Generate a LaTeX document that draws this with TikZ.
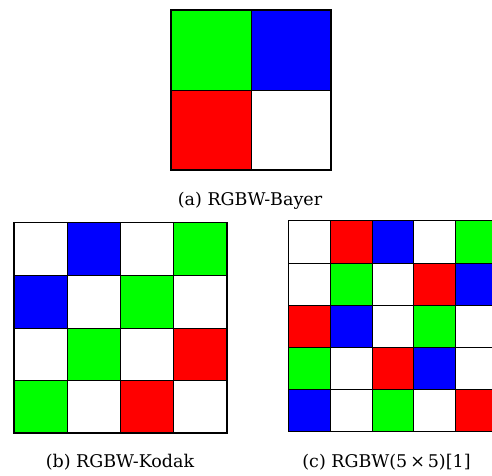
\documentclass[tikz,border=0pt]{standalone}
\usepackage{fontspec}
\setmainfont{DejaVu Serif}
\definecolor{pg}{RGB}{0,255,0}
\definecolor{pb}{RGB}{0,0,255}
\definecolor{pr}{RGB}{255,0,0}
\definecolor{pw}{RGB}{255,255,255}
\tikzset{cell/.style={draw=black,line width=0.8pt},
  captext/.style={anchor=base,inner sep=0pt,font=\fontsize{17.5}{20}\selectfont}}
\begin{document}
\begin{tikzpicture}[x=1pt,y=-1pt]
\useasboundingbox (0,0) rectangle (492,475);
\clip (0,0) rectangle (492,475);
% (a) Bayer
\foreach \row [count=\r from 0] in {{pg,pb},{pr,pw}}{
  \foreach \c [count=\k from 0] in \row{
    \filldraw[cell,fill=\c] (171+80*\k,10+80*\r) rectangle ++(80,80);
  }
}
\draw[line width=1.4pt] (171,10) rectangle (331,170);
\node[captext] (capa) at (250,205) {(a) RGBW-Bayer};
% (b) Kodak
\foreach \row [count=\r from 0] in {{pw,pb,pw,pg},{pb,pw,pg,pw},{pw,pg,pw,pr},{pg,pw,pr,pw}}{
  \foreach \c [count=\k from 0] in \row{
    \filldraw[cell,fill=\c] (14+53.2*\k,222.7+52.6*\r) rectangle ++(53.2,52.6);
  }
}
\draw[line width=1.4pt] (14,222.7) rectangle (226.8,433.1);
\node[captext] (capb) at (120,467) {(b) RGBW-Kodak};
% (c) 5x5
\foreach \row [count=\r from 0] in {{pw,pr,pb,pw,pg},{pw,pg,pw,pr,pb},{pr,pb,pw,pg,pw},{pg,pw,pr,pb,pw},{pb,pw,pg,pw,pr}}{
  \foreach \c [count=\k from 0] in \row{
    \filldraw[cell,fill=\c] (288.3+41.8*\k,220.7+42.2*\r) rectangle ++(41.8,42.2);
  }
}
\draw[line width=1.4pt] (288.3,220.7) rectangle (497.3,431.7);
\node[captext] (capc) at (386.5,467) {(c) RGBW(5\,×\,5)[1]};
\end{tikzpicture}
\end{document}
